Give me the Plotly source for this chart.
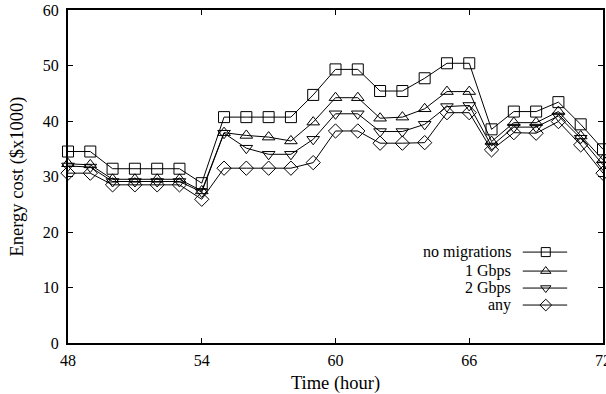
import plotly.graph_objects as go

hours = list(range(48, 73))
no_migrations = [34.5, 34.5, 31.4, 31.4, 31.4, 31.4, 28.8, 40.7, 40.7, 40.7, 40.7, 44.7,
                 49.3, 49.3, 45.4, 45.4, 47.7, 50.4, 50.4, 38.5, 41.7, 41.7, 43.4, 39.4, 34.9]
gbps1 = [32.3, 32.1, 29.5, 29.5, 29.5, 29.5, 27.4, 37.9, 37.4, 37.1, 36.4, 39.8,
         44.2, 44.2, 40.5, 40.7, 42.2, 45.3, 45.3, 36.3, 39.7, 39.7, 41.7, 37.3, 33.0]
gbps2 = [31.9, 31.7, 29.1, 29.1, 29.1, 29.1, 27.2, 37.8, 35.1, 34.0, 34.0, 36.7,
         41.3, 41.3, 38.1, 38.1, 39.4, 42.6, 42.8, 35.5, 38.9, 38.9, 40.9, 36.9, 32.1]
any_ = [30.6, 30.6, 28.5, 28.5, 28.5, 28.5, 25.9, 31.5, 31.5, 31.5, 31.5, 32.5,
        38.2, 38.2, 36.0, 36.0, 36.1, 41.5, 41.5, 34.8, 37.9, 37.8, 39.9, 35.7, 30.6]

series_names = ["no migrations", "1 Gbps", "2 Gbps", "any"]
series_values = [no_migrations, gbps1, gbps2, any_]
symbols = ["square-open", "triangle-up-open", "triangle-down-open", "diamond-open"]
sizes = [11, 11, 11, 11]

x_ticks = [48, 54, 60, 66, 72]
y_ticks = [0, 10, 20, 30, 40, 50, 60]

FONT = "Liberation Serif"
fig = go.Figure()

for name, vals, sym, sz in zip(series_names, series_values, symbols, sizes):
    fig.add_trace(go.Scatter(
        x=hours, y=vals, mode="lines+markers", name=name,
        line=dict(color="black", width=1),
        marker=dict(symbol=sym, size=sz, color="black", line=dict(color="black", width=1)),
        showlegend=False, cliponaxis=False,
    ))

# legend keys on an overlay axis in [0,1] space
leg_rows = [0.273, 0.216, 0.165, 0.114]
for name, sym, sz, yr in zip(series_names, symbols, sizes, leg_rows):
    fig.add_trace(go.Scatter(
        x=[0.850, 0.933], y=[yr, yr], xaxis="x2", yaxis="y2", mode="lines",
        line=dict(color="black", width=1), showlegend=False, hoverinfo="skip"))
    fig.add_trace(go.Scatter(
        x=[0.893], y=[yr], xaxis="x2", yaxis="y2", mode="markers",
        marker=dict(symbol=sym, size=sz - 2, color="black", line=dict(color="black", width=1)),
        showlegend=False, hoverinfo="skip"))
    fig.add_annotation(x=0.832, y=yr, xref="x2", yref="y2", text=name, showarrow=False,
                       xanchor="right", yanchor="middle",
                       font=dict(family=FONT, size=16, color="black"))

fig.update_layout(
    width=606, height=394,
    margin=dict(l=68, r=3, t=10, b=51),
    paper_bgcolor="white", plot_bgcolor="white",
    font=dict(family=FONT, size=16, color="black"),
    xaxis=dict(range=[48, 72], tickvals=x_ticks, ticktext=[str(v) for v in x_ticks],
               ticks="inside", ticklen=5, tickwidth=1, tickcolor="black",
               showline=True, linewidth=2, linecolor="black", mirror="ticks",
               showgrid=False, zeroline=False, automargin=False,
               ticklabeloverflow="allow", ticklabelstandoff=2,
               title=dict(text="Time (hour)", font=dict(family=FONT, size=18.5), standoff=8),
               tickfont=dict(family=FONT, size=16)),
    yaxis=dict(range=[0, 60], tickvals=y_ticks,
               ticks="inside", ticklen=5, tickwidth=1, tickcolor="black",
               showline=True, linewidth=2, linecolor="black", mirror="ticks",
               showgrid=False, zeroline=False, automargin=False,
               title=dict(text="Energy cost ($x1000)", font=dict(family=FONT, size=18.5), standoff=14),
               tickfont=dict(family=FONT, size=16), ticklabelstandoff=4),
    xaxis2=dict(range=[0, 1], overlaying="x", visible=False, fixedrange=True),
    yaxis2=dict(range=[0, 1], overlaying="y", visible=False, fixedrange=True),
)

fig.write_html("out.html")
